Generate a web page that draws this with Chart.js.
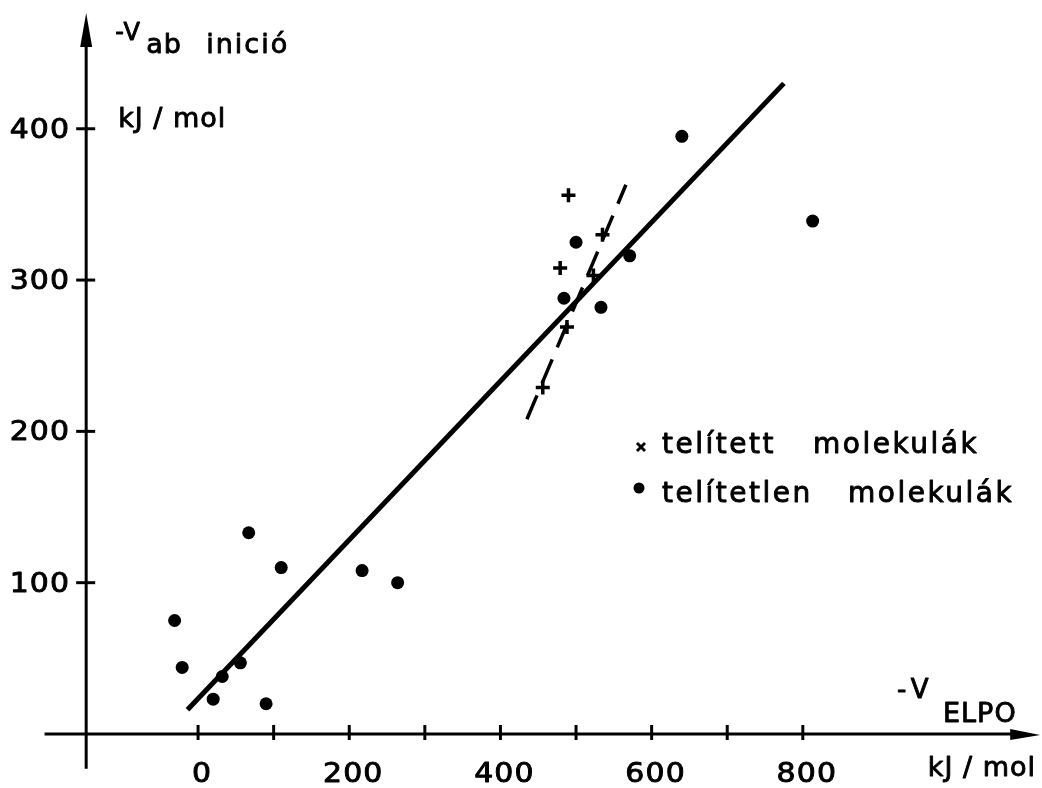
<!DOCTYPE html>
<html>
<head>
<meta charset="utf-8">
<script src="https://cdn.jsdelivr.net/npm/chart.js@4.4.1/dist/chart.umd.min.js"></script>
<style>
  html, body { margin: 0; padding: 0; background: #fff; }
  #wrap { width: 1042px; height: 788px; position: relative; }
</style>
</head>
<body>
<div id="wrap"><canvas id="chart"></canvas></div>
<script>
// -V_ELPO (x) vs -V_ab inició (y), kJ/mol
const xTicks = [0, 100, 200, 300, 400, 500, 600, 700, 800];
const xTickLabels = ['0', '200', '400', '600', '800'];
const yTicks = [100, 200, 300, 400];

// telített molekulák (crosses)
const saturatedX = [490, 535, 479, 523, 488, 456];
const saturatedY = [356, 330, 308, 303, 269, 229];

// telítetlen molekulák (dots)
const unsaturatedX = [-31, -21, 20, 32, 56, 67, 90, 110, 217, 264, 484, 500, 533, 571, 640, 813];
const unsaturatedY = [75, 44, 23, 38, 47, 133, 20, 110, 108, 100, 288, 325, 282, 316, 395, 339];

// fitted lines (end points)
const fitX = [-14, 775];
const fitY = [16, 430];
const satFitX = [435, 566];
const satFitY = [208, 363];

const toPoints = (xs, ys) => xs.map((x, i) => ({ x: x, y: ys[i] }));

const FONT = '"DejaVu Sans", sans-serif';

// medium-weight text: fill plus a thin stroke, optionally stretched wider
function text(ctx, str, x, y, size, align, spacing, sx) {
  sx = sx || 1;
  ctx.save();
  ctx.font = size + 'px ' + FONT;
  ctx.letterSpacing = (spacing == null ? 2 : spacing) + 'px';
  ctx.textAlign = align || 'left';
  ctx.textBaseline = 'alphabetic';
  ctx.lineWidth = 0.9;
  ctx.lineJoin = 'round';
  ctx.translate(x, y);
  ctx.scale(sx, 1);
  ctx.fillText(str, 0, 0);
  ctx.strokeText(str, 0, 0);
  ctx.restore();
}

const axesPlugin = {
  id: 'handAxes',
  beforeDatasetsDraw(chart) {
    const ctx = chart.ctx;
    const xs = chart.scales.x;
    const ys = chart.scales.y;
    const y0 = ys.getPixelForValue(0);
    const yAxisX = xs.getPixelForValue(-148);
    ctx.save();
    ctx.strokeStyle = '#000';
    ctx.fillStyle = '#000';
    ctx.lineWidth = 3;
    ctx.lineCap = 'butt';

    // x axis with arrow
    const xStart = xs.getPixelForValue(-203);
    const xEnd = xs.getPixelForValue(1114);
    ctx.beginPath();
    ctx.moveTo(xStart, y0);
    ctx.lineTo(xEnd - 20, y0);
    ctx.stroke();
    ctx.beginPath();
    ctx.moveTo(xEnd, y0 + 1);
    ctx.lineTo(xEnd - 30, y0 - 5);
    ctx.lineTo(xEnd - 30, y0 + 6);
    ctx.closePath();
    ctx.fill();

    // y axis with arrow
    const yBottom = ys.getPixelForValue(-23);
    const yTop = ys.getPixelForValue(476.5);
    ctx.beginPath();
    ctx.moveTo(yAxisX, yBottom);
    ctx.lineTo(yAxisX, yTop + 20);
    ctx.stroke();
    ctx.beginPath();
    ctx.moveTo(yAxisX, yTop);
    ctx.lineTo(yAxisX - 6, yTop + 34);
    ctx.lineTo(yAxisX + 6, yTop + 34);
    ctx.closePath();
    ctx.fill();

    // x ticks
    xTicks.forEach(v => {
      const px = xs.getPixelForValue(v);
      ctx.beginPath();
      ctx.moveTo(px, y0 - 9);
      ctx.lineTo(px, y0 + 6);
      ctx.stroke();
    });
    xTickLabels.forEach(l => {
      const px = xs.getPixelForValue(Number(l));
      text(ctx, l, px + 4, y0 + 48, 26, 'center', 1, 1.15);
    });

    // y ticks
    yTicks.forEach(v => {
      const py = ys.getPixelForValue(v);
      ctx.beginPath();
      ctx.moveTo(yAxisX - 10, py);
      ctx.lineTo(yAxisX + 9, py);
      ctx.stroke();
      text(ctx, String(v), yAxisX - 16, py + 9, 26, 'right', 1, 1.15);
    });

    // axis titles
    text(ctx, '-V', yAxisX + 29, 40, 24, 'left', 1);
    text(ctx, 'ab', yAxisX + 60, 53, 27, 'left', 1);
    text(ctx, 'inició', yAxisX + 120, 53, 27, 'left', 2);
    text(ctx, 'kJ / mol', yAxisX + 32, 127, 27, 'left', 1);

    text(ctx, '-V', 897, 698, 26, 'left', 6);
    text(ctx, 'ELPO', 943, 722, 27, 'left', 1);
    text(ctx, 'kJ / mol', 1036, 776, 27, 'right', 1);

    // legend
    ctx.lineWidth = 3;
    ctx.beginPath();
    ctx.moveTo(637, 443); ctx.lineTo(645, 451);
    ctx.moveTo(645, 443); ctx.lineTo(637, 451);
    ctx.stroke();
    ctx.beginPath();
    ctx.arc(639, 488, 5.5, 0, Math.PI * 2);
    ctx.fill();
    text(ctx, 'telített', 662, 453, 28, 'left', 2.5);
    text(ctx, 'molekulák', 813, 453, 28, 'left', 2.5);
    text(ctx, 'telítetlen', 662, 502, 28, 'left', 2.5);
    text(ctx, 'molekulák', 848, 502, 28, 'left', 2.5);
    ctx.restore();
  }
};

const ctx = document.getElementById('chart').getContext('2d');
new Chart(ctx, {
  type: 'scatter',
  data: {
    datasets: [
      {
        label: 'fit',
        data: toPoints(fitX, fitY),
        showLine: true,
        borderColor: '#000',
        borderWidth: 5,
        pointRadius: 0,
        order: 3
      },
      {
        label: 'telített fit',
        data: toPoints(satFitX, satFitY),
        showLine: true,
        borderColor: '#000',
        borderWidth: 3.5,
        borderDash: [26, 13],
        pointRadius: 0,
        order: 2
      },
      {
        label: 'telített molekulák',
        data: toPoints(saturatedX, saturatedY),
        pointStyle: 'cross',
        pointRadius: 7,
        borderColor: '#000',
        borderWidth: 3.5,
        order: 1
      },
      {
        label: 'telítetlen molekulák',
        data: toPoints(unsaturatedX, unsaturatedY),
        pointStyle: 'circle',
        pointRadius: 6.5,
        backgroundColor: '#000',
        borderColor: '#000',
        borderWidth: 0,
        order: 0
      }
    ]
  },
  options: {
    responsive: true,
    maintainAspectRatio: false,
    animation: false,
    layout: { padding: 0, autoPadding: false },
    plugins: {
      legend: { display: false },
      tooltip: { enabled: false }
    },
    scales: {
      x: { type: 'linear', min: -262, max: 1116.4, display: false },
      y: { type: 'linear', min: -35.7, max: 485.1, display: false }
    }
  },
  plugins: [axesPlugin]
});
</script>
</body>
</html>
